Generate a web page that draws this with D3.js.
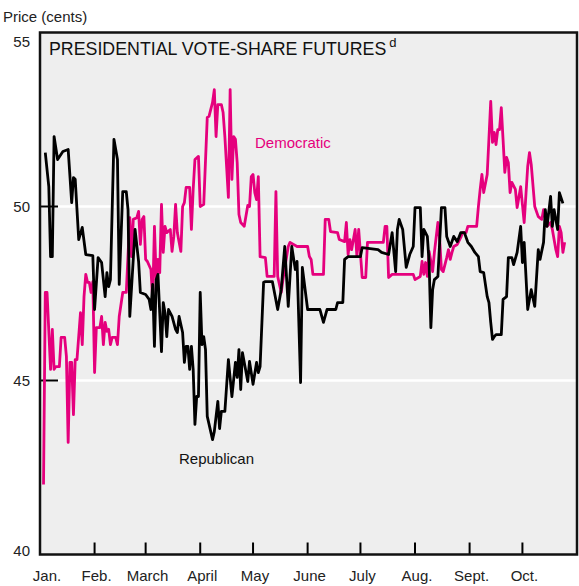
<!DOCTYPE html>
<html><head><meta charset="utf-8">
<script src="https://cdn.jsdelivr.net/npm/d3@7"></script>
<style>
html,body{margin:0;padding:0;background:#fff;}
svg{display:block;font-family:"Liberation Sans",Arial,Helvetica,sans-serif;}
</style></head>
<body><svg id="c" width="579" height="586"></svg>
<script>
// ---- data (day offset from Jan 1, 1988; price in cents) ----
const repDays = [3,5,6,7,8,10,13,16,18,19,20,22,24,26,30,31,33,35,37,38,39,40,42,44,45,47,49,50,51,54,56,57,60,62,63,64,65,66,67,68,69,70,71,72,73,75,77,78,79,81,82,83,84,85,86,87,88,89,90,91,92,93,94,95,98,99,101,102,103,105,107,109,111,112,113,114,115,118,119,121,123,124,125,127,128,132,135,137,139,141,143,145,146,148,149,152,159,161,163,168,169,172,173,175,182,183,192,194,198,200,202,203,204,206,208,210,212,213,216,217,218,220,221,222,223,224,226,227,228,230,231,233,235,237,239,241,243,245,247,249,250,252,254,255,256,257,258,259,262,263,265,266,268,269,271,273,274,275,277,279,281,283,284,286,287,288,290,291,292,294,295,297];
const repPrice = [51.55,50.57,48.56,48.56,52.01,51.35,51.58,51.64,50.11,50.83,50.78,49.05,49.40,48.62,48.59,47.04,48.53,48.39,47.41,48.10,47.70,47.90,51.93,51.35,47.76,50.43,50.43,49.91,46.84,49.34,48.42,47.53,47.47,47.33,47.04,47.76,45.98,47.90,48.05,46.95,45.83,47.24,46.95,46.26,47.04,46.84,46.47,46.38,46.84,46.38,45.52,45.98,45.98,45.32,45.98,45.32,43.74,44.54,44.54,47.53,46.03,46.26,45.89,43.97,43.30,43.53,44.40,43.62,44.11,44.11,45.60,44.54,45.52,45.09,45.89,44.74,45.80,44.97,45.55,44.89,45.52,45.23,45.40,47.82,47.84,47.84,47.04,47.61,48.85,47.13,48.85,48.19,48.42,44.94,48.25,47.04,47.04,46.67,47.04,47.04,47.24,47.24,48.48,48.56,48.56,48.82,48.76,48.68,48.62,49.25,48.13,49.34,49.63,49.34,48.25,48.62,48.85,49.97,49.97,48.56,49.34,49.14,48.39,46.52,47.61,47.90,47.99,48.99,49.97,49.97,49.14,48.85,49.14,48.99,49.25,49.25,48.97,48.85,48.68,48.56,48.13,48.10,47.41,47.24,46.67,46.18,46.26,46.32,46.32,47.33,47.41,48.53,48.53,48.33,48.68,49.43,48.39,48.97,47.04,47.61,47.13,48.76,48.48,48.97,49.91,49.43,50.29,49.43,49.91,49.34,50.40,50.09];
const demDays = [2,3,4,6,7,8,9,11,12,14,15,16,17,18,19,20,21,23,24,25,26,27,28,29,30,31,32,34,35,36,37,38,39,40,41,43,44,45,47,49,51,52,53,55,56,57,58,59,60,61,63,64,65,66,67,68,69,70,71,72,74,75,76,77,78,80,81,82,83,85,86,87,88,90,91,93,95,96,98,99,100,101,103,104,105,107,108,109,110,111,112,113,114,116,118,119,120,121,122,123,124,125,128,129,133,134,135,137,138,141,142,146,152,153,154,155,161,162,164,165,169,170,173,174,175,176,177,179,180,181,183,185,186,187,195,196,197,198,200,212,213,216,217,218,219,220,221,223,224,226,227,228,229,231,232,233,234,235,237,239,240,242,243,248,249,250,251,252,254,256,257,258,259,260,261,262,263,264,265,266,267,268,270,271,273,274,275,277,278,279,281,283,285,286,288,290,291,293,294,295,296,297,298];
const demPrice = [42.01,47.53,47.53,45.32,46.47,45.32,45.40,45.40,46.24,46.24,45.69,43.22,45.52,45.52,44.02,45.60,45.60,46.95,46.03,47.41,48.05,47.82,47.82,47.53,47.84,45.23,46.52,46.52,46.84,46.03,46.67,46.41,46.47,46.03,46.24,46.24,46.03,46.84,47.53,47.53,49.68,48.56,49.63,49.68,49.86,48.91,49.63,49.71,48.48,48.42,48.19,47.33,49.43,47.90,48.48,48.10,50.06,48.68,49.43,49.25,49.34,48.71,49.14,50.06,49.25,48.71,50.00,50.11,50.55,50.55,49.34,50.49,51.35,51.44,50.00,50.06,52.56,52.59,52.99,53.36,52.01,52.93,52.93,52.70,52.01,50.26,53.36,50.78,52.01,51.93,51.26,49.77,49.54,49.43,50.03,50.00,50.86,50.92,50.40,50.20,50.86,48.56,48.53,47.99,47.99,50.43,47.99,47.53,47.90,48.85,48.97,48.85,48.85,48.56,48.48,48.05,48.05,49.63,49.63,49.28,49.25,49.05,48.99,49.54,48.62,49.05,48.76,49.34,48.56,49.34,47.96,47.96,48.97,48.97,48.97,49.43,49.43,47.96,48.05,48.05,47.90,47.99,48.42,48.05,48.39,47.99,48.71,48.13,48.68,49.54,49.05,48.19,48.13,48.53,48.76,48.48,48.68,48.85,48.91,49.11,49.25,49.25,49.43,49.43,50.00,50.49,50.92,50.40,50.92,53.02,51.84,52.13,51.78,52.21,52.21,52.84,51.93,50.98,51.41,51.26,50.40,50.69,50.49,49.97,50.57,50.06,49.54,51.15,51.55,51.21,50.00,49.71,49.63,49.91,49.43,49.54,49.34,48.76,48.56,49.43,49.25,48.68,48.97];
const monthLabels = ["Jan.","Feb.","March","April","May","June","July","Aug.","Sept.","Oct."];
const yTicks = [40,45,50,55];
const gridValues = [45,50];
const seriesNames = ["Democratic","Republican"];
const titleText = "PRESIDENTIAL VOTE-SHARE FUTURES";
const yTitle = "Price (cents)";

// ---- layout ----
const svg = d3.select("#c");
const L = 40, R = 577, T = 32.5, B = 554.5;
const x = d3.scaleTime().domain([new Date(1988,0,1), new Date(1988,10,1)]).range([L, R]);
const y = d3.scaleLinear().domain([40,55]).range([B, T]);
const dayDate = d => new Date(1988, 0, 1 + d);

svg.append("rect").attr("x",L).attr("y",T).attr("width",R-L).attr("height",B-T).attr("fill","#eeeeee");

// gridlines
svg.selectAll("line.grid").data(gridValues).join("line")
  .attr("x1",L).attr("x2",R).attr("y1",d=>y(d)).attr("y2",d=>y(d))
  .attr("stroke","#ffffff").attr("stroke-width",2.5);

// y ticks (inside, short)
svg.selectAll("line.yt").data(gridValues).join("line")
  .attr("x1",L).attr("x2",L+18).attr("y1",d=>y(d)).attr("y2",d=>y(d))
  .attr("stroke","#000").attr("stroke-width",2);

// month ticks
const months = d3.timeMonth.range(new Date(1988,1,1), new Date(1988,10,1));
svg.selectAll("line.mt").data(months).join("line")
  .attr("x1",d=>x(d)).attr("x2",d=>x(d)).attr("y1",B).attr("y2",B-12)
  .attr("stroke","#000").attr("stroke-width",2);

// lines
const line = d3.line().x(d=>x(dayDate(d[0]))).y(d=>y(d[1])).curve(d3.curveLinear);
const dem = demDays.map((d,i)=>[d,demPrice[i]]);
const rep = repDays.map((d,i)=>[d,repPrice[i]]);
svg.append("path").datum(dem).attr("d",line).attr("fill","none")
  .attr("stroke","#e5007d").attr("stroke-width",2.8).attr("stroke-linejoin","round");
svg.append("path").datum(rep).attr("d",line).attr("fill","none")
  .attr("stroke","#000").attr("stroke-width",2.8).attr("stroke-linejoin","round");

// frame
svg.append("rect").attr("x",L).attr("y",T).attr("width",R-L).attr("height",B-T)
  .attr("fill","none").attr("stroke","#111").attr("stroke-width",2.5);

// texts
svg.append("text").attr("x",3).attr("y",22).attr("font-size",15).attr("fill","#222").text(yTitle);
const yLabPos = {55:47, 50:212, 45:386, 40:556};
svg.selectAll("text.yl").data(yTicks).join("text")
  .attr("x",30).attr("y",d=>yLabPos[d]).attr("text-anchor","end")
  .attr("font-size",15).attr("fill","#222").text(d=>d);

const monthStarts = d3.timeMonth.range(new Date(1988,0,1), new Date(1988,10,1));
svg.selectAll("text.ml").data(monthLabels).join("text")
  .attr("x",(d,i)=> i===0 ? 47 : x(monthStarts[i])+2)
  .attr("y",581).attr("text-anchor","middle")
  .attr("font-size",15).attr("fill","#222").text(d=>d);

const t = svg.append("text").attr("x",49).attr("y",55).attr("font-size",17.8).attr("fill","#111");
t.append("tspan").text(titleText);
t.append("tspan").attr("dy",-8).attr("dx",3).attr("font-size",13).text("d");

svg.append("text").attr("x",255).attr("y",148).attr("font-size",15).attr("fill","#e5007d").text(seriesNames[0]);
svg.append("text").attr("x",179).attr("y",464).attr("font-size",15).attr("fill","#111").text(seriesNames[1]);
</script></body></html>
